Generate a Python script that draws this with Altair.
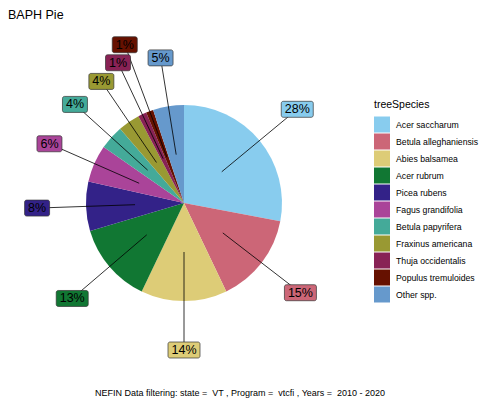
import math
import altair as alt
import pandas as pd

species = ["Acer saccharum", "Betula alleghaniensis", "Abies balsamea", "Acer rubrum",
           "Picea rubens", "Fagus grandifolia", "Betula papyrifera", "Fraxinus americana",
           "Thuja occidentalis", "Populus tremuloides", "Other spp."]
shares = [28.0, 14.9, 14.2, 13.3, 8.1, 6.2, 4.0, 3.6, 1.4, 1.2, 5.1]
colors = ["#88CCEE", "#CC6677", "#DDCC77", "#117733", "#332288", "#AA4499",
          "#44AA99", "#999933", "#882255", "#661100", "#6699CC"]
title_text = "BAPH Pie"
legend_title = "treeSpecies"
caption = "NEFIN Data filtering: state =  VT , Program =  vtcfi , Years =  2010 - 2020"

# layout (pixels)
W, H = 352, 356
R = 98
R_IN = 49
R_LAB = 147
BOX_H = 16

total = sum(shares)
rows = []
placed = []
cum = 0.0
for i, (sp, v) in enumerate(zip(species, shares)):
    mid = (cum + v / 2) / total * 2 * math.pi
    cum += v
    lab = f"{round(v / total * 100)}%"
    bw = 7 * len(lab) + 11
    r = R_LAB
    while True:
        lx, ly = r * math.sin(mid), r * math.cos(mid)
        box = (lx - bw / 2, lx + bw / 2, ly - BOX_H / 2, ly + BOX_H / 2)
        clash = any(not (box[1] + 2 < b[0] or b[1] + 2 < box[0] or box[3] + 2 < b[2] or b[3] + 2 < box[2])
                    for b in placed)
        if not clash:
            break
        r += 1
    placed.append(box)
    rows.append(dict(species=sp, share=v, order=i, label=lab,
                     x0=R_IN * math.sin(mid), y0=R_IN * math.cos(mid),
                     lx=lx, ly=ly, bx1=box[0], bx2=box[1], by1=box[2], by2=box[3]))
df = pd.DataFrame(rows)

xs = alt.Scale(domain=[-W / 2, W / 2], nice=False, zero=False)
ys = alt.Scale(domain=[-H / 2, H / 2], nice=False, zero=False)
cscale = alt.Scale(domain=species, range=colors)
FONT = "Liberation Sans"

base = alt.Chart(df)
arcs = base.mark_arc(radius=R).encode(
    theta=alt.Theta("share:Q", stack=True),
    order=alt.Order("order:Q"),
    color=alt.Color("species:N", scale=cscale, sort=species,
                    legend=alt.Legend(orient="none", legendX=366, legendY=75, title=legend_title,
                                      titleFontSize=10.5, titleFontWeight="normal", titleFont=FONT,
                                      titleColor="#000", titlePadding=6,
                                      labelFont=FONT, labelFontSize=8.7, labelColor="#000",
                                      labelOffset=6, symbolType="square", symbolSize=256,
                                      symbolStrokeWidth=0, symbolOpacity=1, rowPadding=1,
                                      padding=0)),
)
rules = base.mark_rule(color="#000", strokeWidth=0.8).encode(
    x=alt.X("x0:Q", scale=xs, axis=None), y=alt.Y("y0:Q", scale=ys, axis=None),
    x2="lx:Q", y2="ly:Q",
)
boxes = base.mark_rect(cornerRadius=2, stroke="#333333", strokeWidth=0.7, opacity=1).encode(
    x=alt.X("bx1:Q", scale=xs, axis=None), x2="bx2:Q",
    y=alt.Y("by1:Q", scale=ys, axis=None), y2="by2:Q",
    color=alt.Color("species:N", scale=cscale, legend=None),
)
texts = base.mark_text(font=FONT, fontSize=12.5, color="#000", align="center", baseline="middle").encode(
    x=alt.X("lx:Q", scale=xs, axis=None), y=alt.Y("ly:Q", scale=ys, axis=None), text="label:N",
)
cap = alt.Chart(pd.DataFrame({"t": [caption.replace("  ", " \u00a0")]})).mark_text(
    font=FONT, fontSize=9, color="#000", align="center", baseline="middle"
).encode(text="t:N", x=alt.value(232), y=alt.value(368))

chart = alt.layer(arcs, rules, boxes, texts, cap).properties(
    width=W, height=H,
    title=alt.TitleParams(title_text, anchor="start", fontSize=12.5, font=FONT,
                          fontWeight="normal", color="#000", offset=4),
    autosize=alt.AutoSizeParams(type="none"),
    padding={"left": 0, "top": 17, "right": 119, "bottom": 20},
).configure_view(stroke=None)

chart.save("out.html", embed_options={"renderer": "svg", "actions": False})
